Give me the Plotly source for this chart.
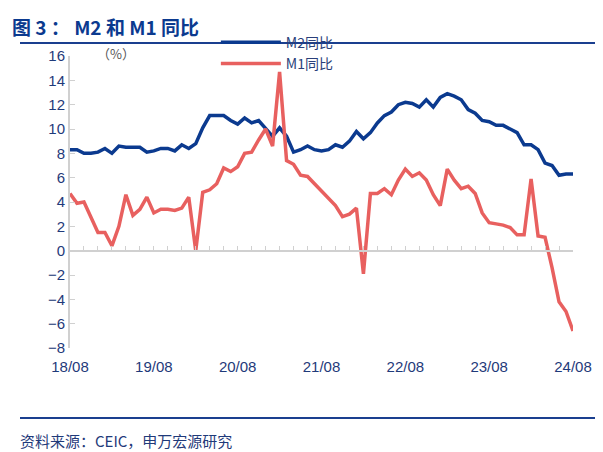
import plotly.graph_objects as go

# monthly, 2018/08 .. 2024/08
m2 = [8.3, 8.3, 8.0, 8.0, 8.1,
      8.4, 8.0, 8.6, 8.5, 8.5, 8.5, 8.1, 8.2, 8.4, 8.4, 8.2, 8.7,
      8.4, 8.8, 10.1, 11.1, 11.1, 11.1, 10.7, 10.4, 10.9, 10.5, 10.7, 10.1,
      9.4, 10.1, 9.4, 8.1, 8.3, 8.6, 8.3, 8.2, 8.3, 8.7, 8.5, 9.0,
      9.8, 9.2, 9.7, 10.5, 11.1, 11.4, 12.0, 12.2, 12.1, 11.8, 12.4, 11.8,
      12.6, 12.9, 12.7, 12.4, 11.6, 11.3, 10.7, 10.6, 10.3, 10.3, 10.0, 9.7,
      8.7, 8.7, 8.3, 7.2, 7.0, 6.2, 6.3, 6.3]
m1 = [4.7, 3.9, 4.0, 2.7, 1.5,
      1.5, 0.4, 2.0, 4.6, 2.9, 3.4, 4.4, 3.1, 3.4, 3.4, 3.3, 3.5,
      4.4, 0.0, 4.8, 5.0, 5.5, 6.8, 6.5, 6.9, 8.0, 8.1, 9.1, 10.0,
      8.6, 14.7, 7.4, 7.1, 6.2, 6.1, 5.5, 4.9, 4.2, 3.7, 2.8, 3.0,
      3.5, -1.9, 4.7, 4.7, 5.1, 4.6, 5.8, 6.7, 6.1, 6.4, 5.8, 4.6,
      3.7, 6.7, 5.8, 5.1, 5.3, 4.7, 3.1, 2.3, 2.2, 2.1, 1.9, 1.3,
      1.3, 5.9, 1.2, 1.1, -1.4, -4.2, -5.0, -6.6, -7.3]
tick_labels = ["18/08", "19/08", "20/08", "21/08", "22/08", "23/08", "24/08"]

x = list(range(len(m2)))
blue = "#0b3a8f"
red = "#e8605f"
font = "Noto Sans CJK SC"

fig = go.Figure()
fig.add_trace(go.Scatter(x=x, y=m2, mode="lines", name="M2同比",
                         line=dict(color=blue, width=3.5)))
fig.add_trace(go.Scatter(x=x, y=m1, mode="lines", name="M1同比",
                         line=dict(color=red, width=3.5)))
# dummy trace so the zero axis shows
fig.add_trace(go.Scatter(x=[0], y=[None], xaxis="x2", showlegend=False, hoverinfo="skip"))

top, bottom = 48, 112

fig.update_layout(
    width=603, height=452,
    margin=dict(l=62, r=38, t=top, b=bottom),
    plot_bgcolor="white", paper_bgcolor="white",
    font=dict(family=font, color="#1f3a7a", size=14),
    showlegend=True,
    legend=dict(orientation="h", x=0.29, y=1.01, xanchor="left", yanchor="middle",
                bgcolor="rgba(0,0,0,0)", font=dict(size=14, color="#2a3f7a"),
                entrywidth=195, itemwidth=60, traceorder="normal"),
    xaxis=dict(range=[0, 72], tickvals=[0, 12, 24, 36, 48, 60, 72], ticktext=tick_labels,
               showgrid=False, zeroline=False, showline=False, ticks="",
               ticklabelstandoff=8,
               tickfont=dict(family="Liberation Sans", size=15, color="#1f3a7a")),
    xaxis2=dict(range=[0, 72], overlaying="x", anchor="free", position=1 / 3,
                showline=True, linecolor="#d0d0d0", linewidth=2,
                tickvals=list(range(0, 73, 2)), ticks="inside", ticklen=4,
                tickcolor="#d0d0d0", showticklabels=False, showgrid=False),
    yaxis=dict(range=[-8, 16], dtick=2, showgrid=False, zeroline=False,
               showline=True, linecolor="#d0d0d0", linewidth=2,
               ticks="inside", ticklen=5, tickcolor="#d0d0d0",
               tickfont=dict(family="Liberation Sans", size=15, color="#1f3a7a")),
)

fig.add_annotation(text="<b>图 3 ： M2 和 M1 同比</b>", xref="paper", yref="paper",
                   x=-60 / 503, y=1 + 29 / 292, xanchor="left", yanchor="middle",
                   showarrow=False, font=dict(size=19, color="#0b3a8f"))
fig.add_annotation(text="（%）", xref="paper", yref="paper", x=0.05, y=1.01,
                   xanchor="left", yanchor="middle", showarrow=False,
                   font=dict(size=13, color="#555555"))
fig.add_annotation(text="资料来源：CEIC，申万宏源研究", xref="paper", yref="paper",
                   x=-52 / 503, y=-92 / 292, xanchor="left", yanchor="middle",
                   showarrow=False, font=dict(size=15, color="#1f3a7a"))
fig.add_shape(type="line", xref="paper", yref="paper", x0=-50 / 503, x1=1 + 36 / 503,
              y0=1 + 13 / 292, y1=1 + 13 / 292, line=dict(color="#1a3f8f", width=2))
fig.add_shape(type="line", xref="paper", yref="paper", x0=-50 / 503, x1=1 + 36 / 503,
              y0=-70 / 292, y1=-70 / 292, line=dict(color="#1a3f8f", width=2))

fig.write_html("out.html")
